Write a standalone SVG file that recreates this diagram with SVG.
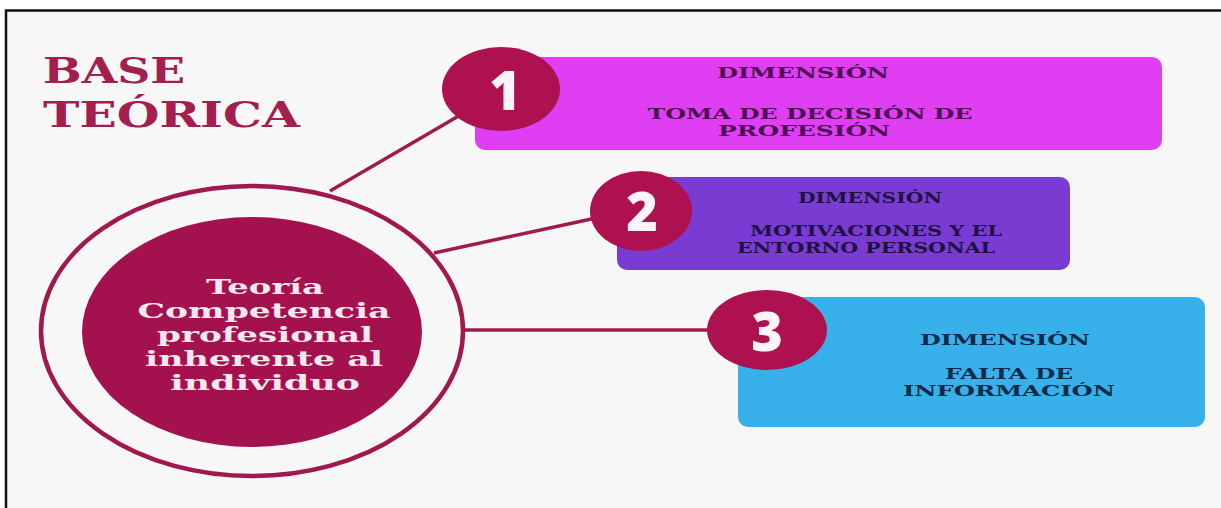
<svg xmlns="http://www.w3.org/2000/svg" width="1221" height="508" viewBox="0 0 1221 508">
<style>
.frame{fill:#f7f7f7;stroke:#111;stroke-width:2.5}
.conn{stroke:#a01a4e;stroke-width:3.5;fill:none}
.badge{fill:#ad1150}
.num{font-family:"Open Sans","DejaVu Sans",sans-serif;font-weight:800;font-size:54px;fill:#fbf3f6;text-anchor:middle}
.title{font-family:"DejaVu Serif",serif;font-weight:bold;font-size:36px;fill:#a3204e}
.ctext{font-family:"DejaVu Serif",serif;font-weight:bold;font-size:20px;fill:#f7e8ee;text-anchor:middle}
.dt{font-family:"DejaVu Serif",serif;font-weight:bold;font-size:14px;text-anchor:middle}
</style>
<rect x="0" y="0" width="1221" height="508" fill="#ffffff"/>
<rect class="frame" x="6" y="10.5" width="1250" height="520"/>
<g id="title">
<text class="title" x="43" y="83" textLength="142" lengthAdjust="spacingAndGlyphs">BASE</text>
<text class="title" x="43" y="127" textLength="257" lengthAdjust="spacingAndGlyphs">TEÓRICA</text>
</g>
<g id="connectors">
<line class="conn" x1="330" y1="191" x2="462" y2="114"/>
<line class="conn" x1="434" y1="253" x2="596" y2="218"/>
<line class="conn" x1="464" y1="330" x2="712" y2="330"/>
</g>
<g id="center">
<ellipse cx="252" cy="331" rx="211" ry="145" fill="none" stroke="#a0184e" stroke-width="4.5"/>
<ellipse cx="252" cy="332" rx="170" ry="115" fill="#a3124f"/>
<text class="ctext" x="265" y="294" textLength="118" lengthAdjust="spacingAndGlyphs">Teoría</text>
<text class="ctext" x="264" y="318" textLength="253" lengthAdjust="spacingAndGlyphs">Competencia</text>
<text class="ctext" x="265" y="342" textLength="216" lengthAdjust="spacingAndGlyphs">profesional</text>
<text class="ctext" x="264" y="366" textLength="238" lengthAdjust="spacingAndGlyphs">inherente al</text>
<text class="ctext" x="265" y="390" textLength="190" lengthAdjust="spacingAndGlyphs">individuo</text>
</g>
<g id="dim1">
<rect x="475" y="57" width="687" height="93" rx="10" fill="#e03ef2"/>
<ellipse class="badge" cx="501" cy="89" rx="59" ry="42"/>
<text class="num" x="505" y="110">1</text>
<text class="dt" x="803" y="78" fill="#4a1250" textLength="172" lengthAdjust="spacingAndGlyphs">DIMENSIÓN</text>
<text class="dt" x="810" y="119" fill="#4a1250" textLength="325" lengthAdjust="spacingAndGlyphs">TOMA DE DECISIÓN DE</text>
<text class="dt" x="804" y="136" fill="#4a1250" textLength="172" lengthAdjust="spacingAndGlyphs">PROFESIÓN</text>
</g>
<g id="dim2">
<rect x="617" y="177" width="453" height="93" rx="10" fill="#7a3bd2"/>
<ellipse class="badge" cx="641" cy="211" rx="51" ry="40"/>
<text class="num" x="642" y="231">2</text>
<text class="dt" x="870" y="203" fill="#1e1240" textLength="144" lengthAdjust="spacingAndGlyphs">DIMENSIÓN</text>
<text class="dt" x="876" y="236" fill="#1e1240" textLength="252" lengthAdjust="spacingAndGlyphs">MOTIVACIONES Y EL</text>
<text class="dt" x="866" y="253" fill="#1e1240" textLength="258" lengthAdjust="spacingAndGlyphs">ENTORNO PERSONAL</text>
</g>
<g id="dim3">
<rect x="738" y="297" width="467" height="130" rx="10" fill="#38b0ea"/>
<ellipse class="badge" cx="767" cy="330" rx="60" ry="40"/>
<text class="num" x="767" y="351">3</text>
<text class="dt" x="1005" y="345" fill="#0e2a4a" textLength="170" lengthAdjust="spacingAndGlyphs">DIMENSIÓN</text>
<text class="dt" x="1009" y="379" fill="#0e2a4a" textLength="128" lengthAdjust="spacingAndGlyphs">FALTA DE</text>
<text class="dt" x="1009" y="396" fill="#0e2a4a" textLength="212" lengthAdjust="spacingAndGlyphs">INFORMACIÓN</text>
</g>
</svg>
